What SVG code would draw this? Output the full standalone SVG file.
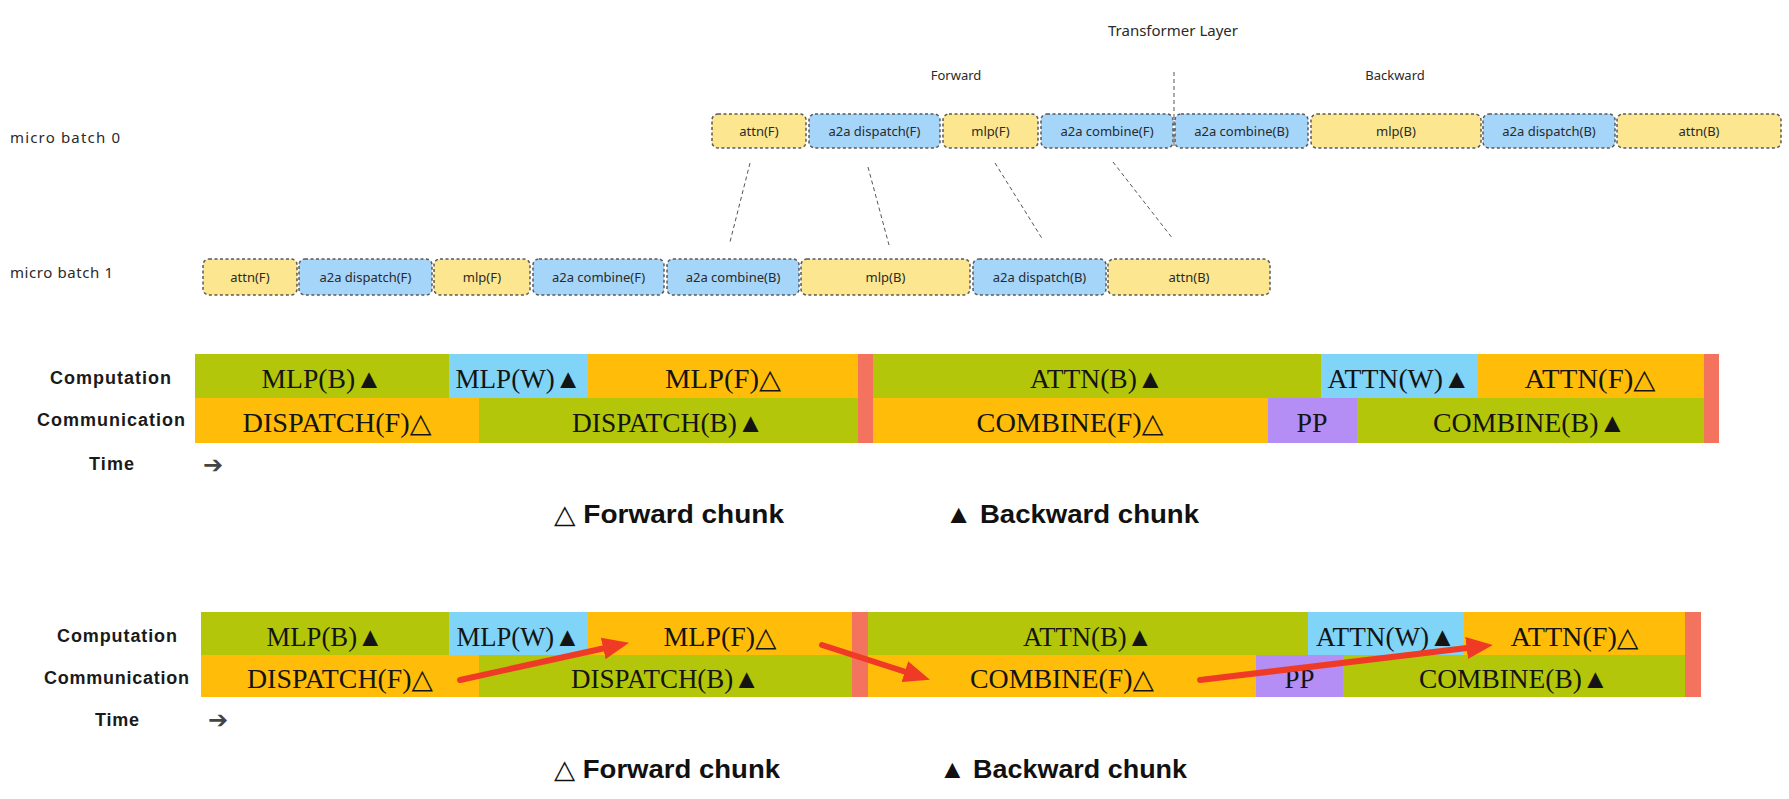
<svg xmlns="http://www.w3.org/2000/svg" width="1789" height="799" viewBox="0 0 1789 799">
<style>
.hand{font-family:"Noto Sans","DejaVu Sans",sans-serif;fill:#2a2a2a}
.bx{stroke:#5a5a5a;stroke-width:1.5;stroke-dasharray:3 2.5}
.y{fill:#fce68f}
.b{fill:#a6d5fa}
.bt{font-family:"Noto Sans","DejaVu Sans",sans-serif;font-size:13px;fill:#2a2a2a;text-anchor:middle;dominant-baseline:central}
.guide{stroke:#555;stroke-width:1;stroke-dasharray:4 3;fill:none}
.g{fill:#b3c60a}
.c{fill:#80d4f7}
.o{fill:#ffbd0a}
.r{fill:#f4735f}
.p{fill:#b48ef4}
.tt{font-family:"Liberation Serif","DejaVu Serif",serif;font-size:27px;fill:#141414;text-anchor:middle}
.lbl{font-family:"Liberation Sans",Arial,sans-serif;font-size:18px;font-weight:bold;fill:#1a1a1a;text-anchor:middle}
.leg{font-family:"Liberation Sans",Arial,"DejaVu Sans",sans-serif;font-size:26px;font-weight:bold;fill:#111}
.arr{font-family:"DejaVu Sans",sans-serif;font-size:24px;fill:#444}
.ra{stroke:#ef3b25;stroke-width:6;fill:none;stroke-linecap:round;marker-end:url(#rh)}
</style>
<defs>
<marker id="rh" viewBox="0 0 12 10" refX="2" refY="5" markerWidth="4.4" markerHeight="3.7" orient="auto" markerUnits="strokeWidth">
<path d="M0,0 L12,5 L0,10 z" fill="#ef3b25"/>
</marker>
</defs>
<rect width="1789" height="799" fill="#ffffff"/>

<!-- top: micro batch diagram -->
<g id="titles">
<text class="hand" x="1173" y="36" font-size="15" text-anchor="middle">Transformer Layer</text>
<text class="hand" x="956" y="80" font-size="13" text-anchor="middle">Forward</text>
<text class="hand" x="1395" y="80" font-size="13" text-anchor="middle">Backward</text>
<text class="hand" x="10" y="143" font-size="15" textLength="110">micro batch 0</text>
<text class="hand" x="10" y="278" font-size="15" textLength="103">micro batch 1</text>
</g>

<g id="mb0">
<g id="mb0-attnF"><rect class="bx y" x="712" y="114" width="94" height="34" rx="6"/><text class="bt" x="759" y="131">attn(F)</text></g>
<g id="mb0-dispF"><rect class="bx b" x="809" y="114" width="131" height="34" rx="6"/><text class="bt" x="874.5" y="131">a2a dispatch(F)</text></g>
<g id="mb0-mlpF"><rect class="bx y" x="943" y="114" width="95" height="34" rx="6"/><text class="bt" x="990.5" y="131">mlp(F)</text></g>
<g id="mb0-combF"><rect class="bx b" x="1041" y="114" width="132" height="34" rx="6"/><text class="bt" x="1107" y="131">a2a combine(F)</text></g>
<g id="mb0-combB"><rect class="bx b" x="1175" y="114" width="133" height="34" rx="6"/><text class="bt" x="1241.5" y="131">a2a combine(B)</text></g>
<g id="mb0-mlpB"><rect class="bx y" x="1311" y="114" width="170" height="34" rx="6"/><text class="bt" x="1396" y="131">mlp(B)</text></g>
<g id="mb0-dispB"><rect class="bx b" x="1483" y="114" width="132" height="34" rx="6"/><text class="bt" x="1549" y="131">a2a dispatch(B)</text></g>
<g id="mb0-attnB"><rect class="bx y" x="1617" y="114" width="164" height="34" rx="6"/><text class="bt" x="1699" y="131">attn(B)</text></g>
</g>

<g id="mb1">
<g id="mb1-attnF"><rect class="bx y" x="203" y="259" width="94" height="36" rx="6"/><text class="bt" x="250" y="277">attn(F)</text></g>
<g id="mb1-dispF"><rect class="bx b" x="299" y="259" width="133" height="36" rx="6"/><text class="bt" x="365.5" y="277">a2a dispatch(F)</text></g>
<g id="mb1-mlpF"><rect class="bx y" x="434" y="259" width="96" height="36" rx="6"/><text class="bt" x="482" y="277">mlp(F)</text></g>
<g id="mb1-combF"><rect class="bx b" x="533" y="259" width="131" height="36" rx="6"/><text class="bt" x="598.5" y="277">a2a combine(F)</text></g>
<g id="mb1-combB"><rect class="bx b" x="667" y="259" width="132" height="36" rx="6"/><text class="bt" x="733" y="277">a2a combine(B)</text></g>
<g id="mb1-mlpB"><rect class="bx y" x="801" y="259" width="169" height="36" rx="6"/><text class="bt" x="885.5" y="277">mlp(B)</text></g>
<g id="mb1-dispB"><rect class="bx b" x="973" y="259" width="133" height="36" rx="6"/><text class="bt" x="1039.5" y="277">a2a dispatch(B)</text></g>
<g id="mb1-attnB"><rect class="bx y" x="1108" y="259" width="162" height="36" rx="6"/><text class="bt" x="1189" y="277">attn(B)</text></g>
</g>

<g id="connectors">
<line class="guide" x1="1174" y1="72" x2="1174" y2="148"/>
<line class="guide" x1="750" y1="163" x2="730" y2="242"/>
<line class="guide" x1="868" y1="167" x2="889" y2="245"/>
<line class="guide" x1="995" y1="163" x2="1043" y2="240"/>
<line class="guide" x1="1113" y1="162" x2="1173" y2="239"/>
</g>

<!-- table 1 -->
<g id="table1">
<text class="lbl" x="110.5" y="384" textLength="121">Computation</text>
<text class="lbl" x="111" y="426" textLength="148">Communication</text>
<text class="lbl" x="111.5" y="470" textLength="45">Time</text>
<text class="arr" x="203" y="473">➔</text>
<g id="t1-mlpB"><rect class="g" x="195" y="354" width="254" height="44"/><text class="tt" x="322" y="388" textLength="121" lengthAdjust="spacingAndGlyphs">MLP(B)▲</text></g>
<g id="t1-mlpW"><rect class="c" x="449" y="354" width="139" height="44"/><text class="tt" x="518.5" y="388" textLength="126" lengthAdjust="spacingAndGlyphs">MLP(W)▲</text></g>
<g id="t1-mlpF"><rect class="o" x="588" y="354" width="270" height="44"/><text class="tt" x="723" y="388" textLength="116" lengthAdjust="spacingAndGlyphs">MLP(F)△</text></g>
<g id="t1-attnB"><rect class="g" x="873" y="354" width="448" height="44"/><text class="tt" x="1097" y="388" textLength="134" lengthAdjust="spacingAndGlyphs">ATTN(B)▲</text></g>
<g id="t1-attnW"><rect class="c" x="1321" y="354" width="157" height="44"/><text class="tt" x="1399" y="388" textLength="143" lengthAdjust="spacingAndGlyphs">ATTN(W)▲</text></g>
<g id="t1-attnF"><rect class="o" x="1478" y="354" width="226" height="44"/><text class="tt" x="1590" y="388" textLength="131" lengthAdjust="spacingAndGlyphs">ATTN(F)△</text></g>
<g id="t1-dispF"><rect class="o" x="195" y="398" width="284" height="45"/><text class="tt" x="337" y="432" textLength="189" lengthAdjust="spacingAndGlyphs">DISPATCH(F)△</text></g>
<g id="t1-dispB"><rect class="g" x="479" y="398" width="379" height="45"/><text class="tt" x="668" y="432" textLength="192" lengthAdjust="spacingAndGlyphs">DISPATCH(B)▲</text></g>
<g id="t1-combF"><rect class="o" x="873" y="398" width="395" height="45"/><text class="tt" x="1070" y="432" textLength="187" lengthAdjust="spacingAndGlyphs">COMBINE(F)△</text></g>
<g id="t1-pp"><rect class="p" x="1268" y="398" width="89" height="45"/><text class="tt" x="1312" y="432" textLength="31" lengthAdjust="spacingAndGlyphs" fill="#1a1850">PP</text></g>
<g id="t1-combB"><rect class="g" x="1357" y="398" width="347" height="45"/><text class="tt" x="1529.5" y="432" textLength="193" lengthAdjust="spacingAndGlyphs">COMBINE(B)▲</text></g>
<rect id="t1-sep1" class="r" x="858" y="354" width="15" height="89"/>
<rect id="t1-sep2" class="r" x="1704" y="354" width="15" height="89"/>
<text class="leg" x="554" y="523" textLength="230" lengthAdjust="spacingAndGlyphs">△ Forward chunk</text>
<text class="leg" x="945" y="523" textLength="254" lengthAdjust="spacingAndGlyphs">▲ Backward chunk</text>
</g>

<!-- table 2 -->
<g id="table2">
<text class="lbl" x="117" y="642" textLength="120">Computation</text>
<text class="lbl" x="116.5" y="684" textLength="145">Communication</text>
<text class="lbl" x="117" y="726" textLength="44">Time</text>
<text class="arr" x="208" y="728">➔</text>
<g id="t2-mlpB"><rect class="g" x="201" y="612" width="248" height="43"/><text class="tt" x="325" y="646" textLength="117" lengthAdjust="spacingAndGlyphs">MLP(B)▲</text></g>
<g id="t2-mlpW"><rect class="c" x="449" y="612" width="139" height="43"/><text class="tt" x="518.5" y="646" textLength="124" lengthAdjust="spacingAndGlyphs">MLP(W)▲</text></g>
<g id="t2-mlpF"><rect class="o" x="588" y="612" width="264" height="43"/><text class="tt" x="720" y="646" textLength="113" lengthAdjust="spacingAndGlyphs">MLP(F)△</text></g>
<g id="t2-attnB"><rect class="g" x="868" y="612" width="440" height="43"/><text class="tt" x="1088" y="646" textLength="130" lengthAdjust="spacingAndGlyphs">ATTN(B)▲</text></g>
<g id="t2-attnW"><rect class="c" x="1308" y="612" width="156" height="43"/><text class="tt" x="1386" y="646" textLength="140" lengthAdjust="spacingAndGlyphs">ATTN(W)▲</text></g>
<g id="t2-attnF"><rect class="o" x="1464" y="612" width="221" height="43"/><text class="tt" x="1574.5" y="646" textLength="128" lengthAdjust="spacingAndGlyphs">ATTN(F)△</text></g>
<g id="t2-dispF"><rect class="o" x="201" y="655" width="278" height="42"/><text class="tt" x="340" y="688" textLength="186" lengthAdjust="spacingAndGlyphs">DISPATCH(F)△</text></g>
<g id="t2-dispB"><rect class="g" x="479" y="655" width="373" height="42"/><text class="tt" x="665.5" y="688" textLength="189" lengthAdjust="spacingAndGlyphs">DISPATCH(B)▲</text></g>
<g id="t2-combF"><rect class="o" x="868" y="655" width="388" height="42"/><text class="tt" x="1062" y="688" textLength="184" lengthAdjust="spacingAndGlyphs">COMBINE(F)△</text></g>
<g id="t2-pp"><rect class="p" x="1256" y="655" width="87" height="42"/><text class="tt" x="1299.5" y="688" textLength="30" lengthAdjust="spacingAndGlyphs" fill="#1a1850">PP</text></g>
<g id="t2-combB"><rect class="g" x="1343" y="655" width="342" height="42"/><text class="tt" x="1514" y="688" textLength="190" lengthAdjust="spacingAndGlyphs">COMBINE(B)▲</text></g>
<rect id="t2-sep1" class="r" x="852" y="612" width="16" height="85"/>
<rect id="t2-sep2" class="r" x="1685" y="612" width="16" height="85"/>
<text class="leg" x="554" y="778" textLength="226" lengthAdjust="spacingAndGlyphs">△ Forward chunk</text>
<text class="leg" x="939" y="778" textLength="248" lengthAdjust="spacingAndGlyphs">▲ Backward chunk</text>
</g>

<g id="red-arrows">
<line class="ra" x1="460" y1="680" x2="607.5" y2="647.5"/>
<line class="ra" x1="822" y1="645" x2="909" y2="673"/>
<line class="ra" x1="1200" y1="680" x2="1471" y2="647.5"/>
</g>
</svg>
